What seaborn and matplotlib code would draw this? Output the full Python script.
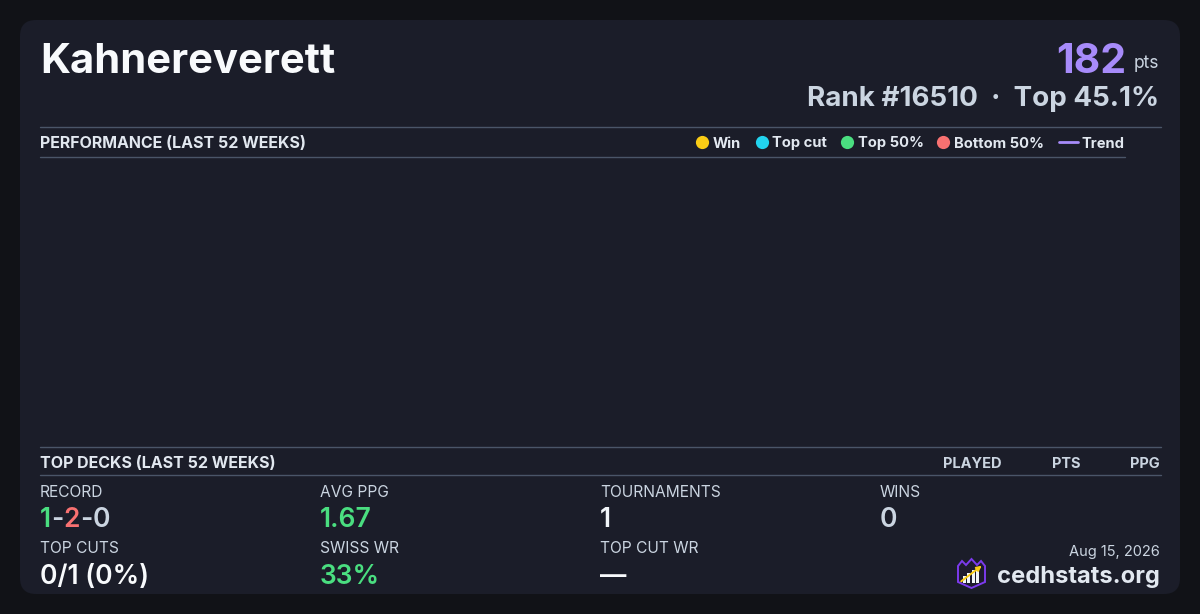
import pandas as pd
import matplotlib.pyplot as plt
import seaborn as sns
from matplotlib.patches import FancyBboxPatch, Polygon, Rectangle

# Player card data
player = "Kahnereverett"
points_total = "182"
rank_line = "Rank #16510  \u00b7  Top 45.1%"

# Performance chart (no events in the last 52 weeks)
weeks = []
placement_pts = []
trend_pts = []

legend_labels = ["Win", "Top cut", "Top 50%", "Bottom 50%"]
legend_colors = ["#facc15", "#22d3ee", "#4ade80", "#f87171"]

deck_columns = ["PLAYED", "PTS", "PPG"]

stat_labels = ["RECORD", "AVG PPG", "TOURNAMENTS", "WINS",
               "TOP CUTS", "SWISS WR", "TOP CUT WR"]
stat_values = ["1-2-0", "1.67", "1", "0", "0/1 (0%)", "33%", "\u2014"]
stat_colors = [None, "#4ade80", "#f1f5f9", "#cbd5e1", "#f8fafc", "#4ade80", "#f8fafc"]
record_parts = ["1", "-", "2", "-", "0"]
record_colors = ["#4ade80", "#cbd5e1", "#f87171", "#cbd5e1", "#cbd5e1"]

report_date = "Aug 15, 2026"
site = "cedhstats.org"

BG = "#111217"
CARD = "#1b1d29"
RULE = "#4a5568"
LIGHT = "#cbd5e1"
WHITE = "#f8fafc"
PURPLE = "#a78bfa"

sns.set_theme(style="dark")
plt.rcParams["font.family"] = ["Inter", "DejaVu Sans"]

fig = plt.figure(figsize=(12, 6.14), dpi=100, facecolor=BG)

# overlay in pixel coordinates
ax = fig.add_axes([0, 0, 1, 1], zorder=0)
ax.set_xlim(0, 1200)
ax.set_ylim(614, 0)
ax.axis("off")
ax.set_facecolor(BG)

ax.add_patch(FancyBboxPatch((20, 20), 1160, 574,
                            boxstyle="round,pad=0,rounding_size=16",
                            facecolor=CARD, edgecolor="none"))

# header
ax.text(40, 73, player, fontsize=30, fontweight="bold", color=WHITE, va="baseline")
ax.text(1126, 73, points_total, fontsize=29.5, fontweight="bold", color=PURPLE,
        va="baseline", ha="right")
ax.text(1159, 68, "pts", fontsize=12.5, color=LIGHT, va="baseline", ha="right")
ax.text(1159, 106.5, rank_line, fontsize=20, fontweight="bold", color=LIGHT,
        va="baseline", ha="right")

# performance section
ax.plot([40, 1161], [126.5, 126.5], color=RULE, lw=1)
ax.plot([40, 1125], [156.5, 156.5], color=RULE, lw=1)
ax.text(40, 147.5, "PERFORMANCE (LAST 52 WEEKS)", fontsize=11.5, fontweight="bold",
        color="#e2e8f0", va="baseline")

marker_x = [702, 762, 847, 943]
for mx, lab, col in zip(marker_x, legend_labels, legend_colors):
    ax.plot(mx, 141.5, "o", ms=9.5, color=col, mec="none")
    ax.text(mx + 10.5, 147.5, lab, fontsize=10.6, fontweight="bold", color="#e2e8f0",
            va="baseline")
ax.plot([1059, 1078], [141.5, 141.5], color=PURPLE, lw=2)
ax.text(1081.5, 147.5, "Trend", fontsize=10.6, fontweight="bold", color="#e2e8f0",
        va="baseline")

chart = fig.add_axes([40 / 1200, (614 - 446) / 614, 1120 / 1200, 290 / 614], zorder=1)
chart.set_facecolor("none")
perf = pd.DataFrame({"week": pd.Series(weeks, dtype=float),
                     "pts": pd.Series(placement_pts, dtype=float)})
if len(perf):
    sns.scatterplot(data=perf, x="week", y="pts", ax=chart)
    sns.lineplot(x=weeks, y=trend_pts, color=PURPLE, ax=chart)
chart.axis("off")

# top decks section
ax.plot([40, 1161], [446.5, 446.5], color=RULE, lw=1)
ax.plot([40, 1161], [474.5, 474.5], color=RULE, lw=1)
ax.text(40, 467.5, "TOP DECKS (LAST 52 WEEKS)", fontsize=11.5, fontweight="bold",
        color="#e2e8f0", va="baseline")
for cx, lab in zip([972, 1066.5, 1160], deck_columns):
    ax.text(cx, 467.5, lab, fontsize=10.5, fontweight="bold", color=LIGHT,
            va="baseline", ha="right" if lab == "PPG" else "center")

# stats grid
col_x = [40, 320, 600, 880, 40, 320, 600]
label_y = [497, 497, 497, 497, 553, 553, 553]
value_y = [527, 527, 527, 527, 584, 584, 584]
for i, (lab, val) in enumerate(zip(stat_labels, stat_values)):
    ax.text(col_x[i], label_y[i], lab, fontsize=11.2, color=LIGHT, va="baseline")
    if lab == "RECORD":
        prev = ax.text(col_x[i], value_y[i], record_parts[0], fontsize=19,
                       fontweight="semibold", color=record_colors[0], va="baseline")
        for part, col in zip(record_parts[1:], record_colors[1:]):
            prev = ax.annotate(part, xy=(1, 0), xycoords=prev, fontsize=19,
                               fontweight="semibold", color=col, va="bottom", ha="left")
    else:
        ax.text(col_x[i], value_y[i], val, fontsize=19, fontweight="semibold",
                color=stat_colors[i], va="baseline")

# footer
ax.text(1160, 556, report_date, fontsize=10.5, color=LIGHT, va="baseline", ha="right")
ax.text(1160, 583, site, fontsize=17.1, fontweight="bold", color="#e2e8f0",
        va="baseline", ha="right")

# logo
shield = [(958, 566), (962, 561), (966, 565), (971.5, 559), (977, 565), (981, 561),
          (985, 566), (985, 582), (971.5, 588), (958, 582)]
ax.add_patch(Polygon(shield, closed=True, facecolor="#1e1b2e", edgecolor="#7c3aed", lw=1.4))
for bx, bh in zip([962.5, 967, 971.5, 976], [7, 10, 13, 16]):
    ax.add_patch(Rectangle((bx, 583 - bh), 3, bh, facecolor="#f1f5f9", edgecolor="none"))
ax.annotate("", xy=(984, 564), xytext=(959, 583),
            arrowprops=dict(arrowstyle="-|>", color="#facc15", lw=1.4, mutation_scale=7))

fig.savefig("out.png", dpi=100, facecolor=BG)
